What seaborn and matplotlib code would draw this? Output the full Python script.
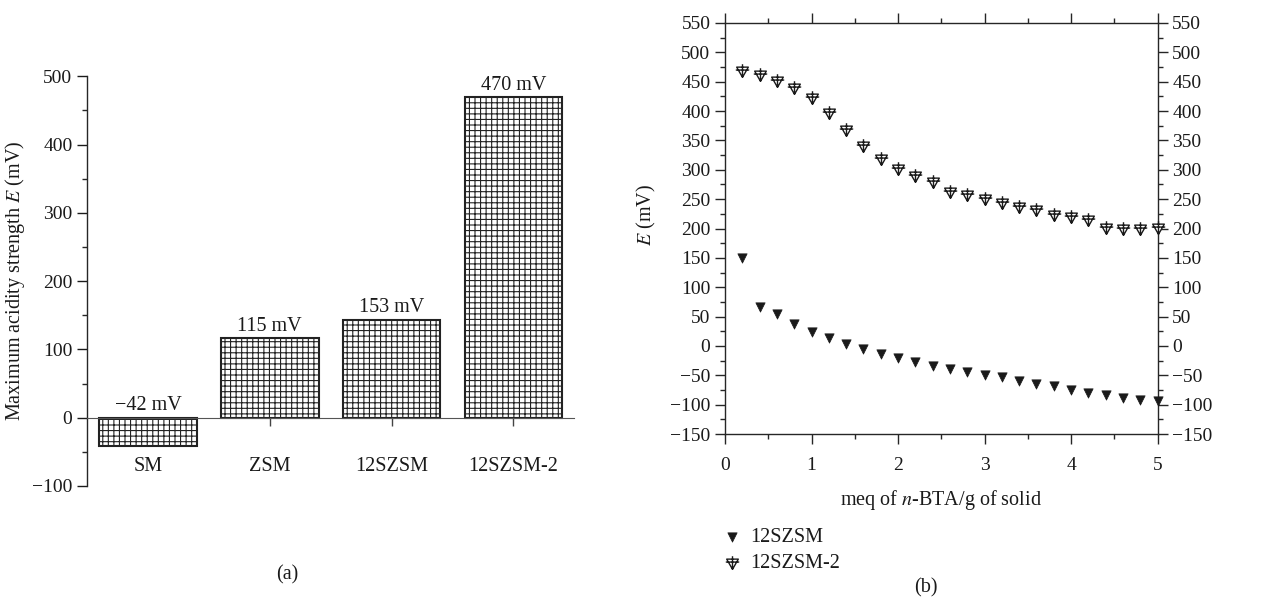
import numpy as np
import pandas as pd
import matplotlib
matplotlib.use("Agg")
import matplotlib.pyplot as plt
from matplotlib.path import Path
from matplotlib.ticker import MultipleLocator
import seaborn as sns

# ---- data ----
categories = ["SM", "ZSM", "12SZSM", "12SZSM-2"]
acidity = [-42, 116, 143, 469]
acidity_labels = ["\u221242 mV", "115 mV", "153 mV", "470 mV"]

meq = [0.2, 0.4, 0.6, 0.8, 1.0, 1.2, 1.4, 1.6, 1.8, 2.0, 2.2, 2.4, 2.6,
       2.8, 3.0, 3.2, 3.4, 3.6, 3.8, 4.0, 4.2, 4.4, 4.6, 4.8, 5.0]
e_12szsm = [150, 67, 54, 37, 23, 13, 3, -5, -13, -20, -27, -34, -40,
            -44, -49, -53, -59, -64, -69, -75, -80, -84, -88, -92, -93]
e_12szsm2 = [468, 461, 452, 440, 422, 397, 368, 340, 318, 302, 290, 280, 263,
             257, 250, 244, 237, 232, 223, 220, 214, 201, 200, 200, 201]

sns.set_theme(style="ticks")
plt.rcParams["font.family"] = ["Liberation Serif", "DejaVu Serif"]
plt.rcParams["mathtext.fontset"] = "stix"
plt.rcParams["hatch.linewidth"] = 0.8
plt.rcParams["axes.linewidth"] = 1.0
FS = 14.5
TFS = 14
TXT = "#1a1a1a"

fig = plt.figure(figsize=(12.82, 6.05), dpi=100)

# ---------------- panel (a) ----------------
axa = fig.add_axes([0.0679, 0.1967, 0.448 - 0.0679, 0.874 - 0.1967])
dfa = pd.DataFrame({"cat": categories, "E": acidity})
sns.barplot(data=dfa, x="cat", y="E", color="white", edgecolor="#222222",
            linewidth=1.5, hatch="+++", width=0.8, ax=axa, saturation=1)
axa.set_xlim(-0.5, 3.5)
axa.set_ylim(-100, 500)
axa.spines["top"].set_visible(False)
axa.spines["right"].set_visible(False)
axa.spines["bottom"].set_position(("data", 0))
axa.spines["bottom"].set_color("#555555")
axa.spines["bottom"].set_linewidth(0.8)
axa.yaxis.set_major_locator(MultipleLocator(100))
axa.yaxis.set_minor_locator(MultipleLocator(50))
axa.tick_params(axis="y", which="major", direction="out", length=7, width=1,
                labelsize=TFS, colors=TXT)
axa.tick_params(axis="y", which="minor", direction="out", length=3.5, width=1)
axa.tick_params(axis="x", which="major", direction="out", length=6, width=1,
                labelbottom=False, colors="#444444")
axa.set_yticks(axa.get_yticks())
axa.set_yticklabels([("\u2212%d" % -v if v < 0 else "%d" % v)
                     for v in axa.get_yticks()])
axa.set_ylim(-100, 500)
axa.set_xlabel("")
axa.set_ylabel("Maximum acidity strength $E$ (mV)", fontsize=FS, color=TXT)
axa.yaxis.set_label_coords(-0.123, 0.5)
for i, (c, v, lab) in enumerate(zip(categories, acidity, acidity_labels)):
    axa.annotate(lab, (i, max(v, 0)), xytext=(0, 2), textcoords="offset points",
                 ha="center", va="bottom", fontsize=FS, color=TXT)
    axa.text(i, -72, c, ha="center", va="center", fontsize=FS, color=TXT)
fig.text(0.224, 0.05, "(a)", ha="center", va="center", fontsize=FS, color=TXT)

# ---------------- panel (b) ----------------
axb = fig.add_axes([0.5655, 0.2826, 0.903 - 0.5655, 0.962 - 0.2826])

tri_plus = Path(
    [(-1.0, 0.75), (1.0, 0.75), (0.0, -1.0), (-1.0, 0.75),
     (-1.15, 0.25), (1.15, 0.25),
     (0.0, 1.25), (0.0, -1.0)],
    [Path.MOVETO, Path.LINETO, Path.LINETO, Path.CLOSEPOLY,
     Path.MOVETO, Path.LINETO,
     Path.MOVETO, Path.LINETO])

sns.scatterplot(x=meq, y=e_12szsm, marker="v", s=45, color="#1a1a1a",
                edgecolor="#1a1a1a", linewidth=0.5, ax=axb, label="12SZSM",
                clip_on=False, zorder=3)
sns.scatterplot(x=meq, y=e_12szsm2, marker=tri_plus, s=110, facecolor="white",
                edgecolor="#1a1a1a", linewidth=1.0, ax=axb, label="12SZSM-2",
                clip_on=False, zorder=3)
axb.set_xlim(0, 5)
axb.set_ylim(-150, 550)
axb.xaxis.set_major_locator(MultipleLocator(1))
axb.xaxis.set_minor_locator(MultipleLocator(0.5))
axb.yaxis.set_major_locator(MultipleLocator(50))
axb.yaxis.set_minor_locator(MultipleLocator(25))
axb.tick_params(which="major", direction="out", length=7, width=1,
                top=True, right=True, labelright=True, labelsize=TFS,
                labelcolor=TXT)
axb.tick_params(axis="x", which="major", pad=9.5)
axb.tick_params(which="minor", direction="out", length=3.5, width=1,
                top=True, right=True)
axb.set_yticks(axb.get_yticks())
axb.set_yticklabels([("\u2212%d" % -v if v < 0 else "%d" % v)
                     for v in axb.get_yticks()])
axb.set_ylim(-150, 550)
axb.set_xlabel("meq of $\\it{n}$-BTA/g of solid", fontsize=FS, labelpad=10,
               color=TXT)
axb.set_ylabel("$E$ (mV)", fontsize=FS, color=TXT)
axb.yaxis.set_label_coords(-0.155, 0.533)
leg = axb.legend(loc="upper left", bbox_to_anchor=(0.555, 1 - 520 / 605),
                 bbox_transform=fig.transFigure, frameon=False, fontsize=FS,
                 handletextpad=0.3, labelspacing=0.35, handlelength=1.2,
                 borderaxespad=0)
for t in leg.get_texts():
    t.set_color(TXT)
fig.text(0.722, 0.028, "(b)", ha="center", va="center", fontsize=FS, color=TXT)

fig.savefig("out.png", dpi=100, facecolor="white")
